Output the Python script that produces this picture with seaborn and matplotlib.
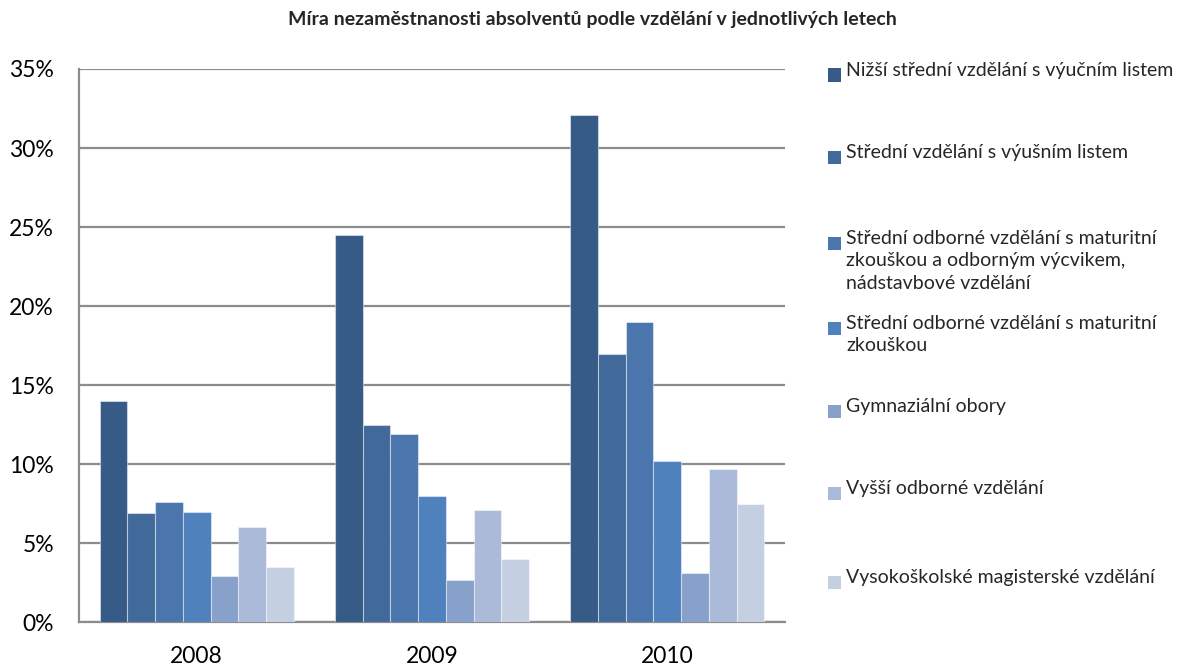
import matplotlib
matplotlib.use("Agg")
import matplotlib.pyplot as plt
from matplotlib.patches import Rectangle
from matplotlib.ticker import PercentFormatter, MultipleLocator
import seaborn as sns
import pandas as pd

# ---------------- data ----------------
years = ["2008", "2009", "2010"]
series = [
    "Nižší střední vzdělání s výučním listem",
    "Střední vzdělání s výušním listem",
    "Střední odborné vzdělání s maturitní\nzkouškou a odborným výcvikem,\nnádstavbové vzdělání",
    "Střední odborné vzdělání s maturitní\nzkouškou",
    "Gymnaziální obory",
    "Vyšší odborné vzdělání",
    "Vysokoškolské magisterské vzdělání",
]
v_nizsi = [14.0, 24.5, 32.1]
v_vyucni = [6.9, 12.5, 17.0]
v_odb_vycvik = [7.6, 11.9, 19.0]
v_odb_mat = [7.0, 8.0, 10.2]
v_gymn = [2.9, 2.7, 3.1]
v_vos = [6.0, 7.1, 9.7]
v_vs = [3.5, 4.0, 7.5]
values = [v_nizsi, v_vyucni, v_odb_vycvik, v_odb_mat, v_gymn, v_vos, v_vs]
colors = ["#365B87", "#416A9B", "#4A76AD", "#4F81BD", "#87A1CB", "#AABAD8", "#C5CFE2"]
title = "Míra nezaměstnanosti absolventů podle vzdělání v jednotlivých letech"

rows = []
for s, vals in zip(series, values):
    for y, v in zip(years, vals):
        rows.append({"year": y, "series": s, "value": v})
df = pd.DataFrame(rows)

# ---------------- figure ----------------
sns.set_theme(style="white")
plt.rcParams["font.family"] = ["Lato", "DejaVu Sans"]

W, H = 1178, 668
fig = plt.figure(figsize=(W / 100, H / 100), dpi=100)
ax = fig.add_axes([79 / W, 1 - 622.3 / H, (785 - 79) / W, (622.3 - 69) / H])

sns.barplot(data=df, x="year", y="value", hue="series", hue_order=series,
            order=years, palette=colors, width=0.823, dodge=True, legend=False,
            edgecolor=(1, 1, 1, 0.45), linewidth=0.8, saturation=1, ax=ax, zorder=3)

ax.set_ylim(0, 35)
ax.set_xlim(-0.5, 2.5)
ax.yaxis.set_major_locator(MultipleLocator(5))
ax.yaxis.set_major_formatter(PercentFormatter(xmax=100, decimals=0))
ax.grid(axis="y", color="#8C8C8C", linewidth=1.6, zorder=0)
ax.set_axisbelow(True)
for side in ["top", "right"]:
    ax.spines[side].set_visible(False)
for side in ["left", "bottom"]:
    ax.spines[side].set_color("#8C8C8C")
    ax.spines[side].set_linewidth(1.6)
ax.set_xlabel("")
ax.set_ylabel("")
ax.tick_params(axis="both", length=0, labelsize=16.5, colors="#000000")
ax.tick_params(axis="y", pad=18)
ax.tick_params(axis="x", pad=17)

fig.text(592 / W, 1 - 19 / H, title, ha="center", va="center",
         fontsize=14, fontweight="bold")

# ---------------- legend ----------------
first_line_y = [75, 157, 243, 328, 411, 493, 582]
for lab, col, yy in zip(series, colors, first_line_y):
    fig.add_artist(Rectangle((828 / W, 1 - (yy + 6.5) / H), 13 / W, 13 / H,
                             transform=fig.transFigure, facecolor=col,
                             edgecolor="none"))
    fig.text(846 / W, 1 - (yy - 13) / H, lab, ha="left", va="top",
             fontsize=14, linespacing=1.38)

fig.savefig("out.png", dpi=100)
